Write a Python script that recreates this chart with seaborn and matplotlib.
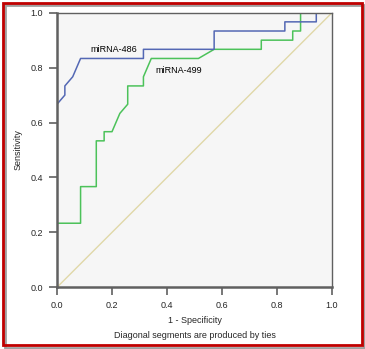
import matplotlib
matplotlib.use("Agg")
import matplotlib.pyplot as plt
import seaborn as sns
import pandas as pd
from matplotlib.patches import Rectangle

# ROC data (1 - specificity, sensitivity)
fpr_486 = [0, 0, 1/35, 1/35, 2/35, 3/35, 11/35, 11/35, 20/35, 20/35, 29/35, 29/35, 33/35, 33/35, 1]
tpr_486 = [0, 20/30, 21/30, 22/30, 23/30, 25/30, 25/30, 26/30, 26/30, 28/30, 28/30, 29/30, 29/30, 1, 1]

fpr_499 = [0, 0, 3/35, 3/35, 5/35, 5/35, 6/35, 6/35, 7/35, 8/35, 9/35, 9/35, 11/35, 11/35,
           12/35, 18/35, 20/35, 26/35, 26/35, 30/35, 30/35, 31/35, 31/35, 1]
tpr_499 = [0, 7/30, 7/30, 11/30, 11/30, 16/30, 16/30, 17/30, 17/30, 19/30, 20/30, 22/30, 22/30, 23/30,
           25/30, 25/30, 26/30, 26/30, 27/30, 27/30, 28/30, 28/30, 1, 1]

ref_x = [0, 1]
ref_y = [0, 1]

labels = ["miRNA-486", "miRNA-499"]
ticks = [0.0, 0.2, 0.4, 0.6, 0.8, 1.0]

sns.set_style("white")
plt.rcParams['font.family'] = ['Liberation Sans', 'DejaVu Sans']
FS = 6.5

fig = plt.figure(figsize=(3.65, 3.49), dpi=100)
ax = fig.add_axes([57/365, 1 - 287.3/349, 275/365, 274.6/349])
ax.set_facecolor("#f6f6f6")

df486 = pd.DataFrame({"x": fpr_486, "y": tpr_486})
df499 = pd.DataFrame({"x": fpr_499, "y": tpr_499})
dfref = pd.DataFrame({"x": ref_x, "y": ref_y})

sns.lineplot(data=dfref, x="x", y="y", ax=ax, color="#e0d8a8", lw=1.0, sort=False, estimator=None)
sns.lineplot(data=df499, x="x", y="y", ax=ax, color="#4cc25a", lw=1.1, sort=False, estimator=None)
sns.lineplot(data=df486, x="x", y="y", ax=ax, color="#5468b4", lw=1.1, sort=False, estimator=None)

ax.text(0.12, 0.866, labels[0], fontsize=FS, va="center", ha="left", color="black")
ax.text(0.357, 0.79, labels[1], fontsize=FS, va="center", ha="left", color="black")

ax.set_xlim(0, 1)
ax.set_ylim(0, 1)
ax.set_xticks(ticks)
ax.set_yticks(ticks)
ax.set_xticklabels([f"{t:.1f}" for t in ticks], fontsize=FS)
ax.set_yticklabels([f"{t:.1f}" for t in ticks], fontsize=FS)
ax.tick_params(axis="both", direction="out", length=6, width=1.2, color="#606060", pad=4, bottom=True, left=True)
for s in ax.spines.values():
    s.set_color("#606060")
    s.set_linewidth(1.0)
ax.spines["left"].set_linewidth(1.8)
ax.spines["bottom"].set_linewidth(1.8)
ax.set_xlabel("1 - Specificity", fontsize=FS, labelpad=4)
ax.set_ylabel("Sensitivity", fontsize=FS, labelpad=6)

fig.text(0.5 * (57 + 332) / 365, 1 - 335/349, "Diagonal segments are produced by ties",
         fontsize=FS, ha="center", va="center")

# shadow + red frame
fig.patches.append(Rectangle((5/365, 1 - 348/349), 359/365, 343/349, transform=fig.transFigure,
                             fill=False, edgecolor="#a0a0a0", lw=2, zorder=0))
fig.patches.append(Rectangle((3/365, 1 - 345/349), 359/365, 342/349, transform=fig.transFigure,
                             fill=False, edgecolor="#c00000", lw=2, zorder=1))

fig.savefig("out.png", dpi=100)
